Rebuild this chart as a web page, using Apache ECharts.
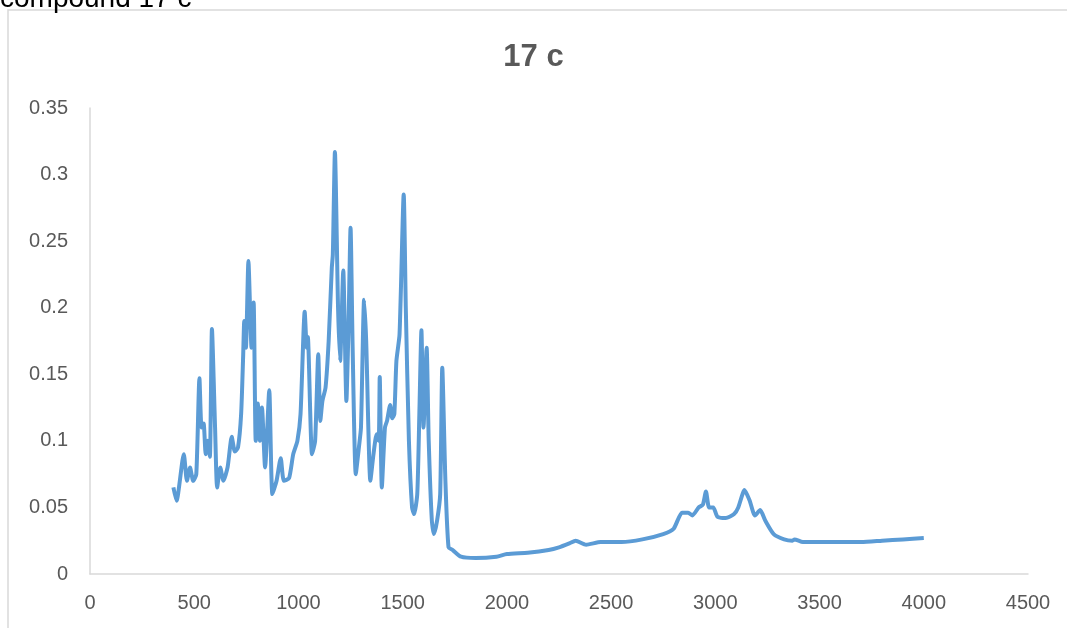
<!DOCTYPE html>
<html>
<head>
<meta charset="utf-8">
<script src="https://cdn.jsdelivr.net/npm/echarts@6/dist/echarts.min.js"></script>
<style>
  html, body { margin: 0; padding: 0; background: #fff; }
  #chart { width: 1067px; height: 628px; }
</style>
</head>
<body>
<div id="chart"></div>
<script>
// wavenumber (x) and absorbance (y)
var wavenumbers = [
  400, 415, 450, 465, 480, 495, 510, 525, 535, 545, 555, 565, 575, 585, 600, 610, 625, 640, 660, 680,
  695, 710, 725, 735, 740, 748, 760, 775, 785, 795, 805, 815, 825, 840, 860, 875, 895, 915, 930, 955,
  975, 995, 1010, 1030, 1040, 1045, 1065, 1080, 1095, 1105, 1115, 1130, 1145, 1160, 1165, 1175, 1190, 1200, 1215, 1230,
  1240, 1250, 1260, 1275, 1290, 1300, 1315, 1325, 1345, 1360, 1375, 1385, 1390, 1400, 1415, 1425, 1440, 1450, 1460, 1470,
  1485, 1505, 1515, 1530, 1545, 1555, 1570, 1580, 1590, 1600, 1615, 1625, 1640, 1650, 1665, 1680, 1690, 1705, 1720, 1740,
  1780, 1850, 1950, 2000, 2100, 2200, 2250, 2300, 2330, 2380, 2450, 2550, 2650, 2750, 2800, 2840, 2870, 2890, 2920, 2940,
  2955, 2970, 2990, 3010, 3050, 3090, 3110, 3140, 3165, 3190, 3215, 3240, 3280, 3330, 3370, 3380, 3420, 3600, 3700, 3800,
  3900, 4000
];
var absorbance = [
  0.065, 0.055, 0.09, 0.07, 0.08, 0.07, 0.075, 0.147, 0.11, 0.113, 0.09, 0.1, 0.088, 0.184, 0.11, 0.065, 0.08, 0.07, 0.08, 0.103,
  0.092, 0.095, 0.12, 0.165, 0.19, 0.17, 0.235, 0.17, 0.204, 0.1, 0.128, 0.1, 0.125, 0.08, 0.138, 0.06, 0.07, 0.087, 0.07, 0.072,
  0.09, 0.1, 0.12, 0.197, 0.17, 0.178, 0.09, 0.1, 0.165, 0.115, 0.13, 0.14, 0.175, 0.23, 0.24, 0.317, 0.2, 0.16, 0.228, 0.13,
  0.185, 0.26, 0.17, 0.075, 0.095, 0.11, 0.206, 0.175, 0.07, 0.09, 0.105, 0.1, 0.148, 0.065, 0.11, 0.115, 0.127, 0.117, 0.12, 0.16,
  0.18, 0.285, 0.2, 0.1, 0.05, 0.045, 0.06, 0.12, 0.183, 0.11, 0.17, 0.1, 0.04, 0.03, 0.04, 0.06, 0.155, 0.07, 0.02, 0.018,
  0.013, 0.012, 0.013, 0.015, 0.016, 0.018, 0.02, 0.023, 0.025, 0.022, 0.024, 0.024, 0.026, 0.03, 0.034, 0.046, 0.046, 0.044, 0.05, 0.052,
  0.062, 0.05, 0.05, 0.043, 0.042, 0.045, 0.05, 0.063, 0.055, 0.044, 0.048, 0.04, 0.03, 0.026, 0.025, 0.026, 0.024, 0.024, 0.024, 0.025,
  0.026, 0.027
];

var chart = echarts.init(document.getElementById('chart'));
var grey = '#595959';
var option = {
  animation: false,
  backgroundColor: '#fff',
  title: {
    text: '17 c',
    left: 'center',
    top: 37,
    textStyle: { fontFamily: 'Liberation Sans', fontSize: 31, fontWeight: 'bold', color: grey }
  },
  graphic: [
    {
      type: 'rect',
      shape: { x: 8, y: 10, width: 1100, height: 700 },
      style: { fill: 'none', stroke: '#d9d9d9', lineWidth: 1.5 },
      silent: true
    },
    {
      type: 'text',
      left: 0,
      top: -15,
      style: { text: 'compound 17 c', fontFamily: 'Liberation Sans', fontSize: 28, fill: '#000' },
      silent: true
    }
  ],
  grid: { left: 90, right: 39, top: 108, bottom: 54 },
  xAxis: {
    type: 'value',
    min: 0,
    max: 4500,
    interval: 500,
    axisLine: { lineStyle: { color: '#d9d9d9', width: 1.5 } },
    axisTick: { show: false },
    splitLine: { show: false },
    axisLabel: {
      color: grey, fontFamily: 'Liberation Sans', fontSize: 20, margin: 19,
      formatter: function (v) { return String(v); }
    }
  },
  yAxis: {
    type: 'value',
    min: 0,
    max: 0.35,
    interval: 0.05,
    axisLine: { show: true, lineStyle: { color: '#d9d9d9', width: 1.5 } },
    axisTick: { show: false },
    splitLine: { show: false },
    axisLabel: {
      color: grey, fontFamily: 'Liberation Sans', fontSize: 20, margin: 22,
      formatter: function (v) { return String(+v.toFixed(2)); }
    }
  },
  series: [{
    type: 'line',
    data: wavenumbers.map(function (x, i) { return [x, absorbance[i]]; }),
    showSymbol: false,
    smooth: 0.2,
    lineStyle: { color: '#5b9bd5', width: 4 }
  }]
};
chart.setOption(option);
</script>
</body>
</html>
